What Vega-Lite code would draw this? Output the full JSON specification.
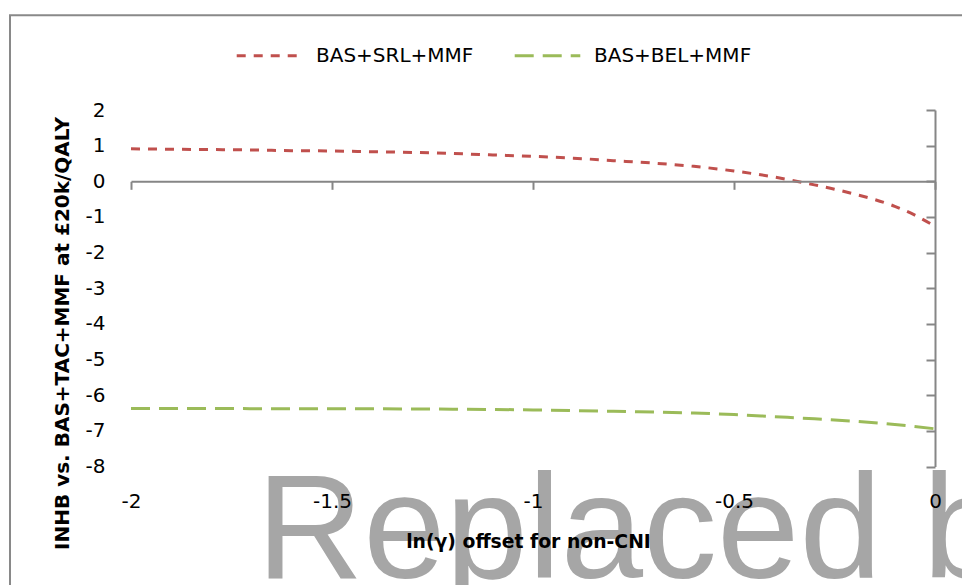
{
  "$schema": "https://vega.github.io/schema/vega-lite/v6.json",
  "autosize": {"type": "none"},
  "width": 804,
  "height": 356.6,
  "padding": {"left": 131, "top": 110, "right": 27, "bottom": 118.4},
  "background": "white",
  "config": {
    "view": {"stroke": null},
    "font": "DejaVu Sans"
  },
  "datasets": {
    "curves": [
      {"x": -2.0, "y": 0.91, "series": "BAS+SRL+MMF"},
      {"x": -1.9, "y": 0.90, "series": "BAS+SRL+MMF"},
      {"x": -1.8, "y": 0.89, "series": "BAS+SRL+MMF"},
      {"x": -1.7, "y": 0.88, "series": "BAS+SRL+MMF"},
      {"x": -1.6, "y": 0.86, "series": "BAS+SRL+MMF"},
      {"x": -1.5, "y": 0.85, "series": "BAS+SRL+MMF"},
      {"x": -1.4, "y": 0.83, "series": "BAS+SRL+MMF"},
      {"x": -1.3, "y": 0.81, "series": "BAS+SRL+MMF"},
      {"x": -1.2, "y": 0.78, "series": "BAS+SRL+MMF"},
      {"x": -1.1, "y": 0.74, "series": "BAS+SRL+MMF"},
      {"x": -1.0, "y": 0.70, "series": "BAS+SRL+MMF"},
      {"x": -0.9, "y": 0.65, "series": "BAS+SRL+MMF"},
      {"x": -0.8, "y": 0.58, "series": "BAS+SRL+MMF"},
      {"x": -0.7, "y": 0.51, "series": "BAS+SRL+MMF"},
      {"x": -0.6, "y": 0.42, "series": "BAS+SRL+MMF"},
      {"x": -0.5, "y": 0.29, "series": "BAS+SRL+MMF"},
      {"x": -0.4, "y": 0.12, "series": "BAS+SRL+MMF"},
      {"x": -0.3, "y": -0.10, "series": "BAS+SRL+MMF"},
      {"x": -0.25, "y": -0.22, "series": "BAS+SRL+MMF"},
      {"x": -0.2, "y": -0.36, "series": "BAS+SRL+MMF"},
      {"x": -0.15, "y": -0.51, "series": "BAS+SRL+MMF"},
      {"x": -0.1, "y": -0.70, "series": "BAS+SRL+MMF"},
      {"x": -0.05, "y": -0.95, "series": "BAS+SRL+MMF"},
      {"x": 0.0, "y": -1.26, "series": "BAS+SRL+MMF"},
      {"x": -2.0, "y": -6.37, "series": "BAS+BEL+MMF"},
      {"x": -1.8, "y": -6.37, "series": "BAS+BEL+MMF"},
      {"x": -1.6, "y": -6.38, "series": "BAS+BEL+MMF"},
      {"x": -1.4, "y": -6.38, "series": "BAS+BEL+MMF"},
      {"x": -1.2, "y": -6.39, "series": "BAS+BEL+MMF"},
      {"x": -1.0, "y": -6.41, "series": "BAS+BEL+MMF"},
      {"x": -0.8, "y": -6.45, "series": "BAS+BEL+MMF"},
      {"x": -0.6, "y": -6.50, "series": "BAS+BEL+MMF"},
      {"x": -0.5, "y": -6.54, "series": "BAS+BEL+MMF"},
      {"x": -0.4, "y": -6.60, "series": "BAS+BEL+MMF"},
      {"x": -0.3, "y": -6.66, "series": "BAS+BEL+MMF"},
      {"x": -0.2, "y": -6.73, "series": "BAS+BEL+MMF"},
      {"x": -0.1, "y": -6.82, "series": "BAS+BEL+MMF"},
      {"x": 0.0, "y": -6.94, "series": "BAS+BEL+MMF"}
    ]
  },
  "layer": [
    {
      "data": {"values": [{"w": "Replaced b"}]},
      "mark": {"type": "text", "font": "Liberation Sans", "fontSize": 148, "color": "#a6a6a6", "align": "left", "baseline": "alphabetic"},
      "encoding": {
        "x": {"datum": -1.688, "type": "quantitative", "scale": {"domain": [-2, 0], "nice": false, "zero": false},
          "axis": {"orient": "top", "offset": -71.3, "domain": true, "domainColor": "#868686", "domainWidth": 2, "ticks": true, "tickSize": -8, "tickColor": "#868686", "tickWidth": 2, "labels": false, "values": [-2, -1.5, -1, -0.5, 0], "title": null, "grid": false, "zindex": 1}},
        "y": {"datum": -11.13, "type": "quantitative", "scale": {"domain": [-8, 2], "nice": false, "zero": false},
          "axis": {"orient": "right", "domain": true, "domainColor": "#868686", "domainWidth": 2, "ticks": true, "tickSize": -9, "tickColor": "#868686", "tickWidth": 2, "labels": false, "values": [-8, -7, -6, -5, -4, -3, -2, -1, 0, 1, 2], "title": null, "grid": false, "zindex": 1}},
        "text": {"field": "w"}
      }
    },
    {
      "data": {"values": [{"frame": 1}]},
      "mark": {"type": "rect", "fill": null, "stroke": "#898989", "strokeWidth": 2, "clip": false},
      "encoding": {
        "x": {"datum": -2.301, "type": "quantitative", "axis": null},
        "x2": {"datum": 0.3},
        "y": {"datum": 4.655, "type": "quantitative", "axis": null},
        "y2": {"datum": -12.5}
      }
    },
    {
      "data": {"name": "curves"},
      "mark": {"type": "line", "strokeWidth": 3, "interpolate": "monotone"},
      "encoding": {
        "x": {"field": "x", "type": "quantitative",
          "axis": {"orient": "bottom", "domain": false, "ticks": false, "tickSize": 0, "grid": false, "values": [-2, -1.5, -1, -0.5, 0], "labelExpr": "'' + datum.value", "labelFont": "DejaVu Sans", "labelFontSize": 20, "labelColor": "#000000", "labelPadding": 25, "labelFlush": false, "labelOverlap": false,
            "title": "ln(γ) offset for non-CNI", "titleFont": "DejaVu Sans", "titleFontSize": 18.8, "titleFontWeight": "bold", "titleColor": "#000000", "titleX": 397, "titleY": 75, "titleBaseline": "middle", "titleAnchor": null, "titleAlign": "center", "zindex": 1}},
        "y": {"field": "y", "type": "quantitative",
          "axis": {"orient": "left", "domain": false, "ticks": false, "tickSize": 0, "grid": false, "values": [-8, -7, -6, -5, -4, -3, -2, -1, 0, 1, 2], "labelExpr": "'' + datum.value", "labelFont": "DejaVu Sans", "labelFontSize": 20, "labelColor": "#000000", "labelPadding": 26, "labelFlush": false, "labelOverlap": false,
            "title": "INHB vs. BAS+TAC+MMF at £20k/QALY", "titleFont": "DejaVu Sans", "titleFontSize": 20, "titleFontWeight": "bold", "titleColor": "#000000", "titleX": -69, "titleY": 223, "titleAngle": 270, "titleBaseline": "middle", "titleAlign": "center", "zindex": 1}},
        "color": {"field": "series", "type": "nominal",
          "scale": {"domain": ["BAS+SRL+MMF", "BAS+BEL+MMF"], "range": ["#C0504D", "#9BBB59"]},
          "legend": {"title": null, "orient": "none", "legendX": 104, "legendY": -89, "direction": "horizontal", "symbolType": "stroke", "symbolSize": 4300, "symbolStrokeWidth": 3, "labelFont": "DejaVu Sans", "labelFontSize": 20, "labelColor": "#000000", "labelOffset": 12, "columnPadding": 34}},
        "strokeDash": {"field": "series", "type": "nominal",
          "scale": {"domain": ["BAS+SRL+MMF", "BAS+BEL+MMF"], "range": [[9, 8], [19, 9]]},
          "legend": {"title": null}}
      }
    }
  ],
  "resolve": {"axis": {"x": "independent", "y": "independent"}}
}
